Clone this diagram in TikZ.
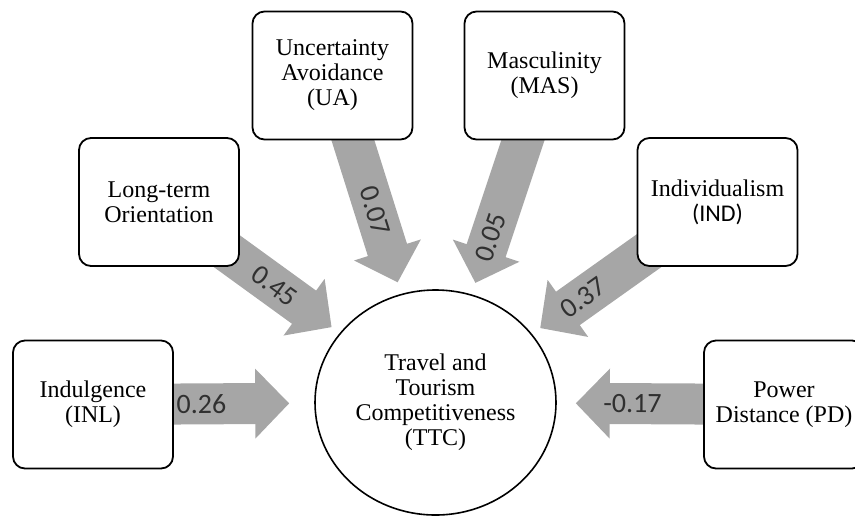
\documentclass[tikz,border=0pt]{standalone}
\usepackage{fontspec}
\setmainfont{Liberation Serif}
\setsansfont{Carlito}
\usepackage{xcolor}
\usepackage{tikz}
\usetikzlibrary{arrows.meta,shapes.geometric,backgrounds}
\definecolor{flow}{HTML}{A6A6A6}
\definecolor{numtext}{HTML}{303030}

\tikzset{
  factor/.style={draw, line width=0.9pt, rounded corners=6pt, fill=white,
    minimum width=80pt, minimum height=64pt, align=center,
    font=\fontsize{12}{12.5}\selectfont},
  outcome/.style={draw, ellipse, line width=0.8pt, fill=white, inner sep=0pt,
    minimum width=120.5pt, minimum height=112.5pt, align=center,
    font=\fontsize{12}{12.5}\selectfont},
  flowarrow/.style={draw=flow, line width=20.5pt,
    -{Triangle[length=17pt, width=34pt]}},
  coef/.style={sloped, text=numtext, font=\sffamily\fontsize{14}{14}\selectfont}
}

\begin{document}
\begin{tikzpicture}[x=0.5pt, y=-0.5pt]

\useasboundingbox (0,0) rectangle (855,515);
\clip (0,0) rectangle (855,515);

% ---------- outcome
\node[outcome] (ttc) at (435.5,402.5) {Travel and\\Tourism\\Competitiveness\\(TTC)};

% ---------- cultural dimensions
\node[factor] (inl) at (93,404.5)    {Indulgence\\(INL)};
\node[factor] (lto) at (159,202)     {Long-term\\Orientation};
\node[factor] (ua)  at (332.5,75.5)  {Uncertainty\\Avoidance\\(UA)};
\node[factor] (mas) at (544.5,75.5)  {Masculinity\\(MAS)};
\node[factor] (ind) at (717.5,202)   {Individualism\\{\sffamily (IND)}};
\node[factor] (pd)  at (784,404.5)   {Power\\Distance (PD)};

% ---------- paths
\begin{scope}[on background layer]
  \draw[flowarrow, shorten >=12.5pt] (inl.center) -- (ttc) node[coef, pos=0.49] {0.26};
  \draw[flowarrow, shorten >=5pt]    (lto.center) -- (ttc) node[coef, pos=0.64] {0.45};
  \draw[flowarrow, shorten >=6pt]    (ua.center)  -- (ttc) node[coef, pos=0.62] {0.07};
  \draw[flowarrow, shorten >=6pt]    (mas.center) -- (ttc) node[coef, pos=0.74] {0.05};
  \draw[flowarrow, shorten >=5pt]    (ind.center) -- (ttc) node[coef, pos=0.725] {0.37};
  \draw[flowarrow, shorten >=9.5pt]  (pd.center)  -- (ttc) node[coef, pos=0.667] {-0.17};
\end{scope}

\end{tikzpicture}
\end{document}
